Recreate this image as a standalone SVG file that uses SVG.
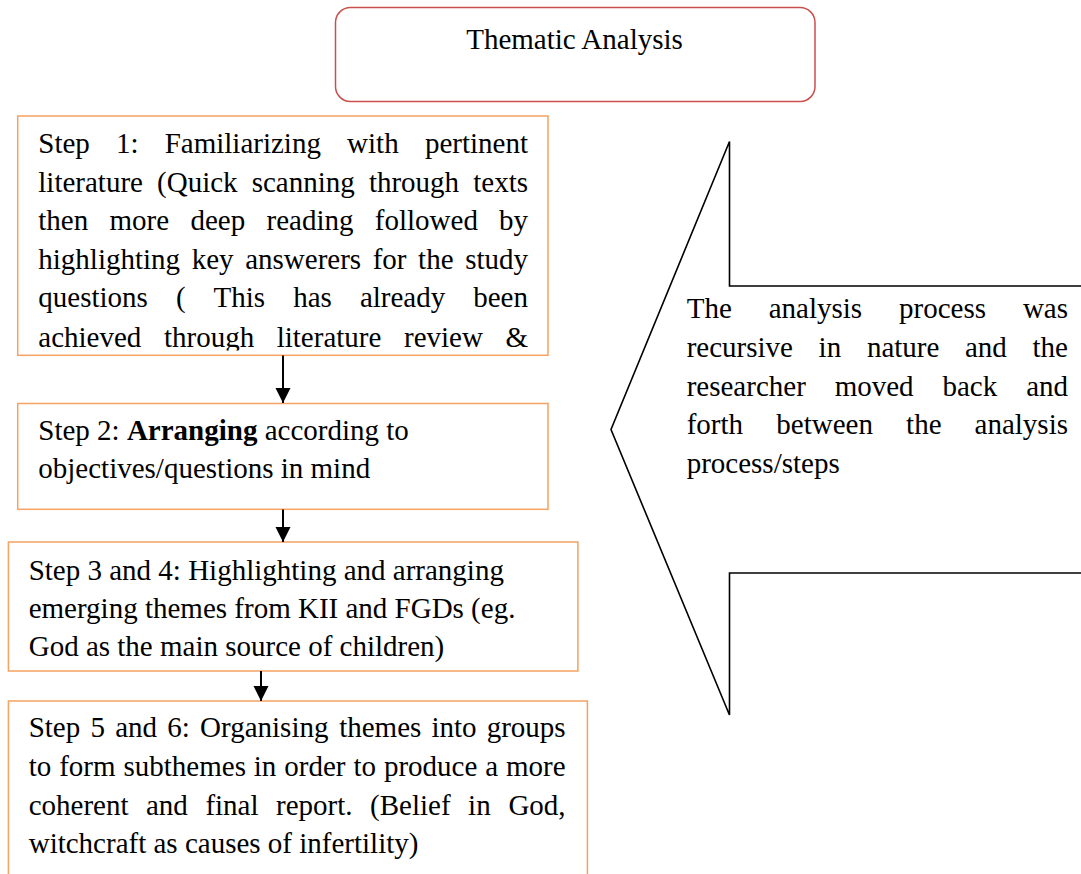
<svg xmlns="http://www.w3.org/2000/svg" width="1081" height="874" viewBox="0 0 1081 874">
<style>
text{font-family:"Liberation Serif","Times New Roman",serif;font-size:29px;fill:#000}
.title{fill:#fff;stroke:#c9504d;stroke-width:1.5}
.step{fill:#fff;stroke:#f5a262;stroke-width:1.5}
.shape{fill:#fff;stroke:#000;stroke-width:1.6;stroke-linejoin:miter}
.conn{stroke:#000;stroke-width:2;fill:none}
</style>
<defs>
<marker id="ah" markerUnits="userSpaceOnUse" markerWidth="16" markerHeight="16" viewBox="0 0 16 16" refX="15" refY="8" orient="auto">
<path d="M0,0.5 L15,8 L0,15.5 Z" fill="#000"/>
</marker>
<clipPath id="c1"><rect x="17" y="116" width="532" height="234.5"/></clipPath>
</defs>
<rect width="1081" height="874" fill="#fff"/>

<g id="title">
<rect class="title" x="335.5" y="7.5" width="479.5" height="94" rx="15"/>
<text x="574.5" y="49.3" text-anchor="middle">Thematic Analysis</text>
</g>

<g id="recursive-note">
<path class="shape" d="M1090,286 L729.5,286 L729.5,141.5 L611,429.5 L729.5,715 L729.5,573 L1090,573"/>
<text y="318"><tspan x="686.7">The</tspan><tspan x="768.7">analysis</tspan><tspan x="899">process</tspan><tspan x="1068" text-anchor="end">was</tspan></text>
<text y="357"><tspan x="686.7">recursive</tspan><tspan x="818.6">in</tspan><tspan x="866.9">nature</tspan><tspan x="965">and</tspan><tspan x="1068" text-anchor="end">the</tspan></text>
<text y="395.5"><tspan x="686.7">researcher</tspan><tspan x="834.7">moved</tspan><tspan x="942.5">back</tspan><tspan x="1068" text-anchor="end">and</tspan></text>
<text y="434"><tspan x="686.7">forth</tspan><tspan x="776.3">between</tspan><tspan x="906.1">the</tspan><tspan x="1068" text-anchor="end">analysis</tspan></text>
<text x="686.7" y="472.5">process/steps</text>
</g>

<g id="step1">
<rect class="step" x="17.7" y="116" width="530.3" height="239.3"/>
<g clip-path="url(#c1)">
<text y="153"><tspan x="38.3">Step</tspan><tspan x="116">1:</tspan><tspan x="164.7">Familiarizing</tspan><tspan x="347.1">with</tspan><tspan x="528" text-anchor="end">pertinent</tspan></text>
<text y="191.6"><tspan x="38.3">literature</tspan><tspan x="157.1">(Quick</tspan><tspan x="251.7">scanning</tspan><tspan x="368.9">through</tspan><tspan x="528" text-anchor="end">texts</tspan></text>
<text y="230.2"><tspan x="38.3">then</tspan><tspan x="109.5">more</tspan><tspan x="190.4">deep</tspan><tspan x="266.5">reading</tspan><tspan x="374.8">followed</tspan><tspan x="528" text-anchor="end">by</tspan></text>
<text y="268.8"><tspan x="38.3">highlighting</tspan><tspan x="191.7">key</tspan><tspan x="245.2">answerers</tspan><tspan x="372.7">for</tspan><tspan x="418.1">the</tspan><tspan x="528" text-anchor="end">study</tspan></text>
<text y="307.4"><tspan x="38.3">questions</tspan><tspan x="175.9">(</tspan><tspan x="213.6">This</tspan><tspan x="293.2">has</tspan><tspan x="359.9">already</tspan><tspan x="528" text-anchor="end">been</tspan></text>
<text y="346.5"><tspan x="38.3">achieved</tspan><tspan x="164">through</tspan><tspan x="276.7">literature</tspan><tspan x="404">review</tspan><tspan x="528" text-anchor="end">&amp;</tspan></text>
</g>
</g>

<g id="step2">
<rect class="step" x="17.7" y="403.5" width="530.3" height="105.8"/>
<text x="38.3" y="440">Step 2: <tspan font-weight="bold">Arranging</tspan> according to</text>
<text x="38.3" y="478">objectives/questions in mind</text>
</g>

<g id="step3">
<rect class="step" x="8.4" y="542" width="569.5" height="129"/>
<text x="28.7" y="580">Step 3 and 4: Highlighting and arranging</text>
<text x="28.7" y="617.5">emerging themes from KII and FGDs (eg.</text>
<text x="28.7" y="656">God as the main source of children)</text>
</g>

<g id="step5">
<rect class="step" x="8.4" y="701" width="579" height="220"/>
<text y="737"><tspan x="28.7">Step</tspan><tspan x="90.5">5</tspan><tspan x="115.2">and</tspan><tspan x="167.3">6:</tspan><tspan x="200.1">Organising</tspan><tspan x="339.2">themes</tspan><tspan x="431.5">into</tspan><tspan x="565.6" text-anchor="end">groups</tspan></text>
<text y="775.7"><tspan x="28.7">to</tspan><tspan x="59.2">form</tspan><tspan x="123.5">subthemes</tspan><tspan x="253.8">in</tspan><tspan x="284.3">order</tspan><tspan x="353.4">to</tspan><tspan x="383.9">produce</tspan><tspan x="485.2">a</tspan><tspan x="565.6" text-anchor="end">more</tspan></text>
<text y="814.5"><tspan x="28.7">coherent</tspan><tspan x="146">and</tspan><tspan x="205.4">final</tspan><tspan x="276.1">report.</tspan><tspan x="370.1">(Belief</tspan><tspan x="468.1">in</tspan><tspan x="565.6" text-anchor="end">God,</tspan></text>
<text x="28.7" y="853">witchcraft as causes of infertility)</text>
</g>

<g id="connectors">
<line class="conn" x1="283" y1="355.5" x2="283" y2="403" marker-end="url(#ah)"/>
<line class="conn" x1="283" y1="509.5" x2="283" y2="542" marker-end="url(#ah)"/>
<line class="conn" x1="261" y1="671" x2="261" y2="701" marker-end="url(#ah)"/>
</g>
</svg>
